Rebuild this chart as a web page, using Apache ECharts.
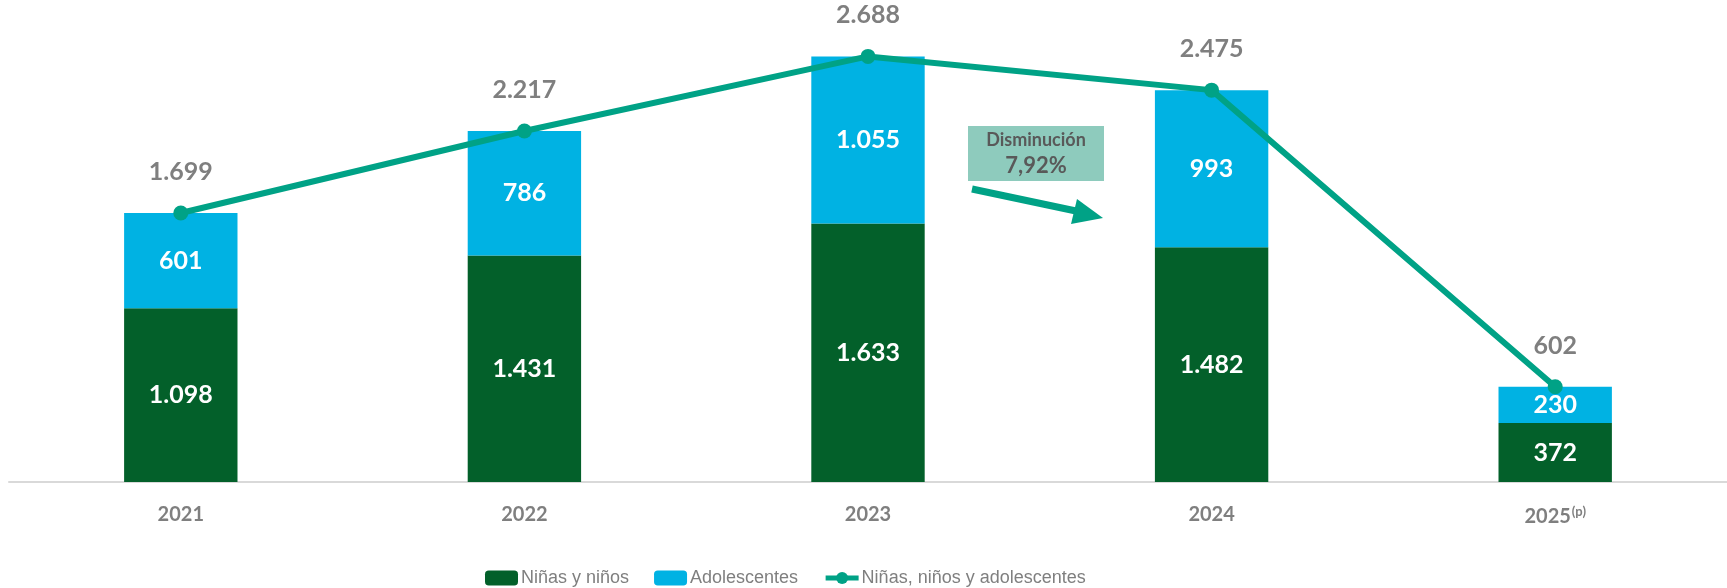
<!DOCTYPE html>
<html><head><meta charset="utf-8">
<script src="https://cdn.jsdelivr.net/npm/echarts@6/dist/echarts.min.js"></script>
<style>html,body{margin:0;padding:0;background:#fff}#c{width:1727px;height:588px}</style>
</head><body><div id="c"></div>
<script>
const categories = ['2021', '2022', '2023', '2024', '2025'];
const ninasNinos = [1098, 1431, 1633, 1482, 372];
const adolescentes = [601, 786, 1055, 993, 230];
const total = [1699, 2217, 2688, 2475, 602];
const annotationTitle = 'Disminución';
const annotationValue = '7,92%';

const fmt = v => String(v).replace(/\B(?=(\d{3})+(?!\d))/g, '.');
const FONT = 'Lato, "Noto Sans", sans-serif';
const chart = echarts.init(document.getElementById('c'), null, {renderer: 'canvas'});

const option = {
  animation: false,
  grid: {left: 9, right: 0, top: 7, bottom: 106, containLabel: false},
  legend: {
    left: 480, top: 564,
    itemWidth: 33, itemHeight: 15, itemGap: 25,
    textStyle: {color: '#7f7f7f', fontSize: 18, fontFamily: '"Liberation Sans Narrow", "Liberation Sans", sans-serif', padding: [0,0,0,-2]},
    data: ['Niñas y niños', 'Adolescentes',
      {name: 'Niñas, niños y adolescentes', lineStyle: {width: 5}, itemStyle: {color: '#00A286'}}]
  },
  xAxis: {
    type: 'category', data: categories,
    axisLine: {lineStyle: {color: '#d9d9d9', width: 2}},
    axisTick: {show: false},
    axisLabel: {
      margin: 23, color: '#7f7f7f', fontSize: 20, fontWeight: 'bold', fontFamily: FONT,
      formatter: v => v === '2025' ? '{a|2025}{s|(p)}' : v,
      rich: {
        a: {color: '#7f7f7f', fontSize: 20, fontWeight: 'bold', fontFamily: FONT},
        s: {color: '#7f7f7f', fontSize: 13, fontWeight: 'bold', fontFamily: FONT, verticalAlign: 'top', padding: [0,0,10,1]}
      }
    }
  },
  yAxis: {type: 'value', min: 0, max: 3000, show: false, splitLine: {show: false}},
  series: [
    {
      name: 'Niñas y niños', type: 'bar', stack: 't', data: ninasNinos, barWidth: '33%',
      itemStyle: {color: '#03602A'},
      label: {show: true, position: 'inside', color: '#fff', fontSize: 25, fontWeight: 'bold', fontFamily: FONT, formatter: p => fmt(p.value)}
    },
    {
      name: 'Adolescentes', type: 'bar', stack: 't', data: adolescentes, barWidth: '33%',
      itemStyle: {color: '#00B2E3'},
      label: {show: true, position: 'inside', color: '#fff', fontSize: 25, fontWeight: 'bold', fontFamily: FONT, formatter: p => fmt(p.value)}
    },
    {
      name: 'Niñas, niños y adolescentes', type: 'line', data: total,
      symbol: 'circle', symbolSize: 15,
      lineStyle: {color: '#00A286', width: 6},
      itemStyle: {color: '#00A286'},
      label: {show: true, position: 'top', distance: 21, color: '#7f7f7f', fontSize: 25, fontWeight: 'bold', fontFamily: FONT, formatter: p => fmt(p.value)},
      z: 5
    }
  ],
  graphic: [
    {type: 'rect', shape: {x: 968, y: 126, width: 136, height: 55}, style: {fill: '#8ECBBD'}},
    {type: 'text', x: 1036, y: 140, style: {text: annotationTitle, fill: '#595959', font: 'bold 18px ' + FONT, textAlign: 'center', textVerticalAlign: 'middle'}},
    {type: 'text', x: 1036, y: 166, style: {text: annotationValue, fill: '#595959', font: 'bold 22px ' + FONT, textAlign: 'center', textVerticalAlign: 'middle'}},
    {type: 'line', shape: {x1: 972, y1: 189, x2: 1076, y2: 211}, style: {stroke: '#00A286', lineWidth: 7}},
    {type: 'polygon', shape: {points: [[1103, 218], [1071, 224], [1077, 199]]}, style: {fill: '#00A286'}}
  ]
};
chart.setOption(option);
</script></body></html>
